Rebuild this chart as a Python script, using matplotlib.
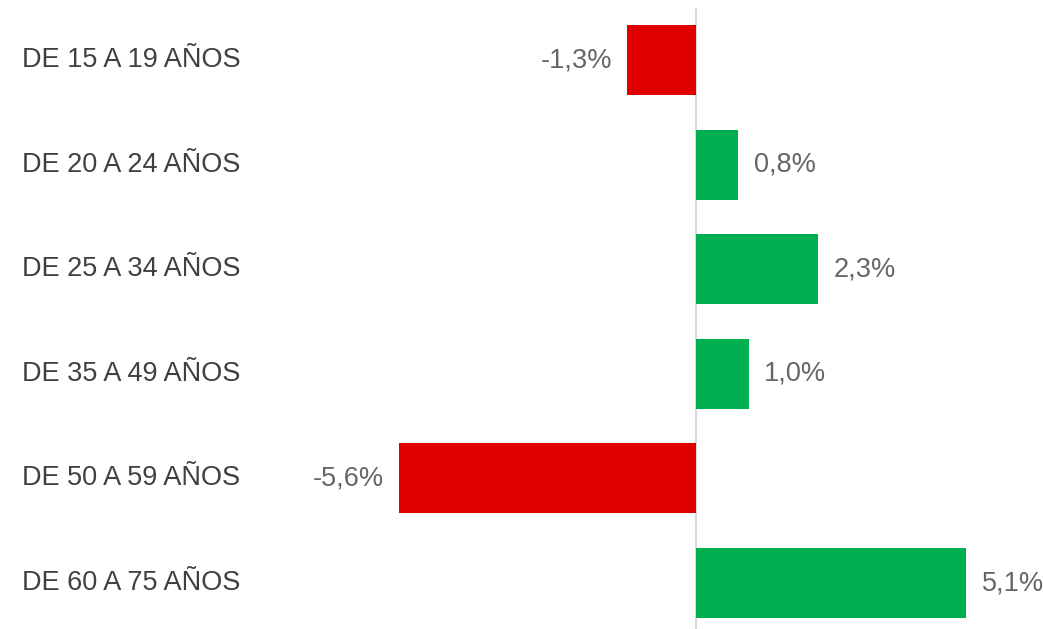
import matplotlib
matplotlib.use("Agg")
import matplotlib.pyplot as plt
from matplotlib.transforms import blended_transform_factory

categories = ["DE 15 A 19 AÑOS", "DE 20 A 24 AÑOS", "DE 25 A 34 AÑOS",
              "DE 35 A 49 AÑOS", "DE 50 A 59 AÑOS", "DE 60 A 75 AÑOS"]
values = [-1.3, 0.8, 2.3, 1.0, -5.6, 5.1]
labels = ["-1,3%", "0,8%", "2,3%", "1,0%", "-5,6%", "5,1%"]

RED = "#E00000"
GREEN = "#00B050"
GRAY = "#666666"

plt.rcParams['font.family'] = ['Liberation Sans', 'DejaVu Sans']

W, H = 1043, 629
fig = plt.figure(figsize=(W / 100, H / 100), dpi=100)
ax_left_px, ax_right_px = 260, 1043
top_px, bottom_px = 7.7, 635.3
ax = fig.add_axes([ax_left_px / W, (H - bottom_px) / H,
                   (ax_right_px - ax_left_px) / W, (bottom_px - top_px) / H])

scale = 53.0
zero_px = 696
ax.set_xlim(-(zero_px - ax_left_px) / scale, (ax_right_px - zero_px) / scale)
ax.set_ylim(len(categories) - 0.5, -0.5)

y = list(range(len(categories)))
colors = [RED if v < 0 else GREEN for v in values]
ax.barh(y, values, height=0.67, color=colors, zorder=2)
ax.axvline(0, color="#D9D9D9", lw=1.5, zorder=1)

for yi, v, lab in zip(y, values, labels):
    if v < 0:
        ax.annotate(lab, (v, yi), xytext=(-11, 0), textcoords="offset points",
                    ha="right", va="center", fontsize=19.5, color=GRAY)
    else:
        ax.annotate(lab, (v, yi), xytext=(11, 0), textcoords="offset points",
                    ha="left", va="center", fontsize=19.5, color=GRAY)

trans = blended_transform_factory(fig.transFigure, ax.transData)
for yi, cat in zip(y, categories):
    ax.text(22 / W, yi, cat, transform=trans, ha="left", va="center",
            fontsize=19.5, color="#404040", clip_on=False)

ax.set_xticks([])
ax.set_yticks([])
for s in ax.spines.values():
    s.set_visible(False)

fig.savefig("out.png", dpi=100)
